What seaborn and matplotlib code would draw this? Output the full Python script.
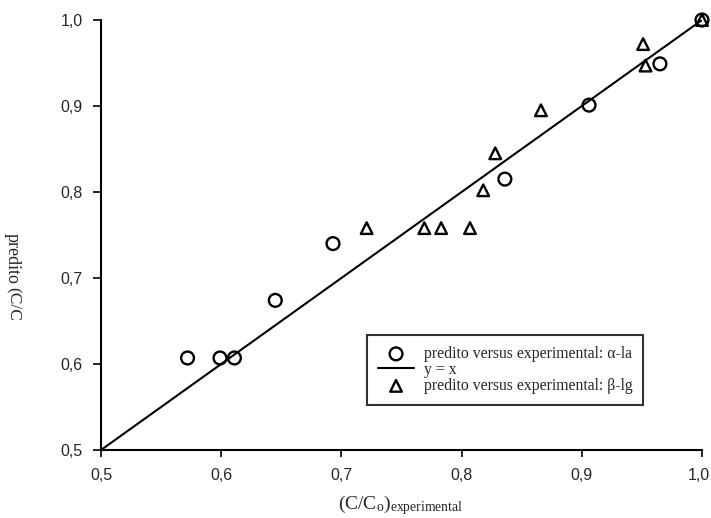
import matplotlib
matplotlib.use("Agg")
import matplotlib.pyplot as plt
import matplotlib.transforms as mtransforms
import seaborn as sns
import numpy as np
import pandas as pd

# data
alpha_x = [0.572, 0.599, 0.611, 0.645, 0.693, 0.836, 0.906, 0.965, 1.0]
alpha_y = [0.607, 0.607, 0.607, 0.674, 0.740, 0.815, 0.901, 0.949, 1.0]
beta_x = [0.721, 0.769, 0.783, 0.807, 0.818, 0.828, 0.866, 0.951, 0.953, 1.0]
beta_y = [0.758, 0.758, 0.758, 0.758, 0.802, 0.845, 0.895, 0.972, 0.947, 1.0]
line_x = [0.5, 1.0]
ticks = [0.5, 0.6, 0.7, 0.8, 0.9, 1.0]
tick_labels = ["0,5", "0,6", "0,7", "0,8", "0,9", "1,0"]

sns.set_theme(style="ticks")
plt.rcParams['font.family'] = ['Liberation Sans', 'DejaVu Sans']
plt.rcParams['mathtext.fontset'] = 'custom'
plt.rcParams['mathtext.rm'] = 'Liberation Serif'
plt.rcParams['mathtext.it'] = 'Liberation Serif:italic'

fig = plt.figure(figsize=(7.11, 5.18), dpi=100)
ax = fig.add_axes([101/711, 1 - 450/518, 601/711, 430/518])

serif = ['Liberation Serif', 'DejaVu Serif']

dfa = pd.DataFrame({"x": alpha_x, "y": alpha_y})
dfb = pd.DataFrame({"x": beta_x, "y": beta_y})
dfl = pd.DataFrame({"x": line_x, "y": line_x})

sns.scatterplot(data=dfa, x="x", y="y", ax=ax, marker="o", s=85,
                facecolors="none", edgecolor="black", linewidth=1.7,
                label="predito versus experimental: \u03b1-la", zorder=3,
                clip_on=False)
sns.lineplot(data=dfl, x="x", y="y", ax=ax, color="black", linewidth=1.5,
             label="y = x", zorder=2)
sns.scatterplot(data=dfb, x="x", y="y", ax=ax, marker="^", s=70,
                facecolors="none", edgecolor="black", linewidth=1.7,
                label="predito versus experimental: \u03b2-lg", zorder=3,
                clip_on=False)

ax.set_xlim(0.5, 1.0)
ax.set_ylim(0.5, 1.0)
ax.set_xticks(ticks)
ax.set_xticklabels(tick_labels, fontsize=11.5)
ax.set_yticks(ticks)
ax.set_yticklabels(tick_labels, fontsize=11.5)
ax.tick_params(axis="y", direction="out", length=6, width=1.2, color="black", pad=7)
ax.tick_params(axis="x", direction="out", length=5, width=1.2, color="black", pad=8)
last = ax.get_xticklabels()[-1]
last.set_transform(last.get_transform() +
                   mtransforms.ScaledTranslation(-2/72, 0, fig.dpi_scale_trans))
for s in ["top", "right"]:
    ax.spines[s].set_visible(False)
for s in ["left", "bottom"]:
    ax.spines[s].set_color("black")
    ax.spines[s].set_linewidth(1.5)
ax.set_xlabel("")
ax.set_ylabel("")

fig.text(401/711, 1 - 517/518, r"(C/C$_{\rm o}$)$_{\rm experimental}$", fontsize=14,
         family=serif, ha="center", va="bottom")
fig.text(4/711, 1 - 233/518, "predito", fontsize=13, family=serif, rotation=270,
         ha="left", va="top")
fig.text(5/711, 1 - 287/518, "(C/C", fontsize=12.5, family=serif, rotation=270,
         ha="left", va="top")

handles, labels = ax.get_legend_handles_labels()
leg = ax.legend(handles, labels, loc="upper left",
                bbox_to_anchor=((367-101)/601, (450-335)/430),
                frameon=True, fancybox=False, edgecolor="black",
                prop={'family': serif, 'size': 11.3}, labelspacing=0.0,
                handlelength=2.3, handletextpad=0.6, borderpad=0.7,
                borderaxespad=0)
leg.get_frame().set_linewidth(1.5)

fig.savefig("out.png", dpi=100)
